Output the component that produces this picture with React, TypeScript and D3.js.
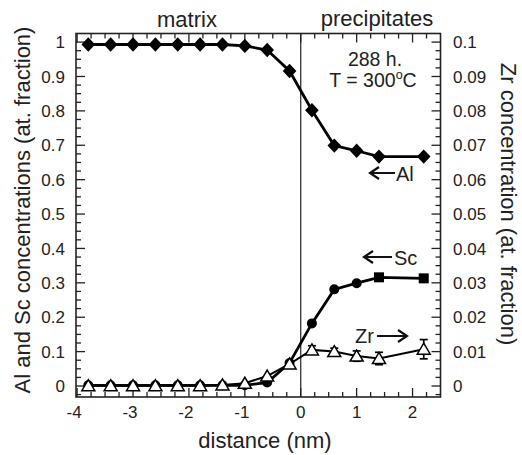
import React from "react";
import * as d3 from "d3";

const distance = [-3.8, -3.4, -3.0, -2.6, -2.2, -1.8, -1.4, -1.0, -0.6, -0.2, 0.2, 0.6, 1.0, 1.4, 2.2];
const alConc = [0.993, 0.993, 0.993, 0.993, 0.993, 0.993, 0.993, 0.989, 0.977, 0.916, 0.802, 0.699, 0.684, 0.667, 0.667];
const scConc = [0.002, 0.002, 0.002, 0.002, 0.002, 0.002, 0.002, 0.002, 0.01, 0.067, 0.182, 0.281, 0.299, 0.316, 0.313];
const scShape = ["c", "c", "c", "c", "c", "c", "c", "c", "c", "c", "c", "c", "c", "s", "s"];
const zrConc = [0.0001, 0.0001, 0.0001, 0.0001, 0.0001, 0.0001, 0.0003, 0.0008, 0.0029, 0.0064, 0.0105, 0.01, 0.0087, 0.008, 0.0107];
const zrErr = [0, 0, 0, 0, 0, 0, 0, 0, 0, 0, 0.0012, 0.001, 0.0015, 0.0018, 0.0028];

const xTicks = [-4, -3, -2, -1, 0, 1, 2];
const leftTicks = [0, 0.1, 0.2, 0.3, 0.4, 0.5, 0.6, 0.7, 0.8, 0.9, 1];
const leftTickLabels = ["0", "0.1", "0.2", "0.3", "0.4", "0.5", "0.6", "0.7", "0.8", "0.9", "1"];
const rightTicks = [0, 0.01, 0.02, 0.03, 0.04, 0.05, 0.06, 0.07, 0.08, 0.09, 0.1];
const rightTickLabels = ["0", "0.01", "0.02", "0.03", "0.04", "0.05", "0.06", "0.07", "0.08", "0.09", "0.1"];

const FONT = "'Liberation Sans', Arial, Helvetica, sans-serif";

export default function App() {
  const L = 76, R = 440.5, T = 33.5, B = 397;
  const x = d3.scaleLinear().domain([-4.02, 2.5]).range([L, R]);
  const y = d3.scaleLinear().domain([-0.032, 1.025]).range([B, T]);
  const yR = d3.scaleLinear().domain([-0.0032, 0.1025]).range([B, T]);

  const xMinor = d3.range(-16, 10).map((i) => i * 0.25).filter((v) => !Number.isInteger(v));
  const yMinor = d3.range(-1, 41).map((i) => i * 0.025).filter((v) => Math.abs(v * 10 - Math.round(v * 10)) > 1e-6);

  const line = (vals: number[], sc: (v: number) => number) =>
    d3.line<number>().x((_, i) => x(distance[i])).y((v) => sc(v))(vals) || "";

  const diamond = (cx: number, cy: number) =>
    `M${cx},${cy - 7.2}L${cx + 6.8},${cy}L${cx},${cy + 7.2}L${cx - 6.8},${cy}Z`;
  const tri = (cx: number, cy: number) =>
    `M${cx},${cy - 6}L${cx + 6.5},${cy + 5}L${cx - 6.5},${cy + 5}Z`;

  const arrowLeft = (x1: number, x2: number, yy: number) =>
    `M${x2},${yy}L${x1},${yy}M${x1 + 9},${yy - 6}L${x1},${yy}L${x1 + 9},${yy + 6}`;
  const arrowRight = (x1: number, x2: number, yy: number) =>
    `M${x1},${yy}L${x2},${yy}M${x2 - 9},${yy - 6}L${x2},${yy}L${x2 - 9},${yy + 6}`;

  return (
    <svg width={522} height={455} style={{ position: "absolute", left: 0, top: 0, background: "#fff" }} fontFamily={FONT}>
      <rect x={0} y={0} width={522} height={455} fill="#fff" />
      {/* ticks */}
      <g stroke="#222" strokeWidth={1.3}>
        {xTicks.map((t) => (
          <g key={"xt" + t}>
            <line x1={x(t)} x2={x(t)} y1={B} y2={B - 9} />
            <line x1={x(t)} x2={x(t)} y1={T} y2={T + 9} />
          </g>
        ))}
        {xMinor.map((t) => (
          <g key={"xm" + t}>
            <line x1={x(t)} x2={x(t)} y1={B} y2={B - 5} />
            <line x1={x(t)} x2={x(t)} y1={T} y2={T + 5} />
          </g>
        ))}
        {leftTicks.map((t) => (
          <g key={"yt" + t}>
            <line x1={L} x2={L + 9} y1={y(t)} y2={y(t)} />
            <line x1={R} x2={R - 9} y1={y(t)} y2={y(t)} />
          </g>
        ))}
        {yMinor.map((t) => (
          <g key={"ym" + t}>
            <line x1={L} x2={L + 5} y1={y(t)} y2={y(t)} />
            <line x1={R} x2={R - 5} y1={y(t)} y2={y(t)} />
          </g>
        ))}
      </g>
      <rect x={L} y={T} width={R - L} height={B - T} fill="none" stroke="#222" strokeWidth={1.6} />
      <line x1={x(0)} x2={x(0)} y1={T} y2={B} stroke="#222" strokeWidth={1.2} />

      {/* tick labels */}
      <g fontSize={17} fill="#222">
        {xTicks.map((t) => (
          <text key={"xl" + t} x={x(t) - (t < 0 ? 3 : 0)} y={418} textAnchor="middle">{String(t)}</text>
        ))}
        {leftTicks.map((t, i) => (
          <text key={"yl" + t} x={65} y={y(t)} dy="0.36em" textAnchor="end">{leftTickLabels[i]}</text>
        ))}
        {rightTicks.map((t, i) => (
          <text key={"yr" + t} x={453} y={yR(t)} dy="0.36em" textAnchor="start">{rightTickLabels[i]}</text>
        ))}
      </g>

      {/* axis titles */}
      <g fontSize={22} fill="#222">
        <text x={265} y={448} textAnchor="middle">distance (nm)</text>
        <text transform="translate(30,210) rotate(-90)" textAnchor="middle">Al and Sc concentrations (at. fraction)</text>
        <text transform="translate(501,204) rotate(90)" textAnchor="middle">Zr concentration (at. fraction)</text>
        <text x={187} y={26.5} textAnchor="middle">matrix</text>
        <text x={377} y={26} textAnchor="middle">precipitates</text>
      </g>
      <g fontSize={19.5} fill="#222">
        <text x={375} y={65.5} textAnchor="middle">288 h.</text>
        <text x={373} y={87} textAnchor="middle">
          T = 300<tspan fontSize={12.5} dy={-8}>o</tspan><tspan dy={8}>C</tspan>
        </text>
      </g>
      <g fontSize={20} fill="#222">
        <text x={396} y={181}>Al</text>
        <text x={394} y={265}>Sc</text>
        <text x={355} y={343}>Zr</text>
      </g>
      <g stroke="#111" strokeWidth={2.2} fill="none">
        <path d={arrowLeft(370, 395, 173)} />
        <path d={arrowLeft(364, 392, 257)} />
        <path d={arrowRight(377, 407, 336)} />
      </g>

      {/* Al */}
      <path d={line(alConc, y)} fill="none" stroke="#000" strokeWidth={2.8} />
      {alConc.map((v, i) => (
        <path key={"al" + i} d={diamond(x(distance[i]), y(v))} fill="#000" />
      ))}
      {/* Sc */}
      <path d={line(scConc, y)} fill="none" stroke="#000" strokeWidth={2.8} />
      {scConc.map((v, i) =>
        scShape[i] === "s" ? (
          <rect key={"sc" + i} x={x(distance[i]) - 5} y={y(v) - 5} width={10} height={10} fill="#000" />
        ) : (
          <circle key={"sc" + i} cx={x(distance[i])} cy={y(v)} r={5} fill="#000" />
        )
      )}
      {/* Zr */}
      <path d={line(zrConc, yR)} fill="none" stroke="#000" strokeWidth={2} />
      <g stroke="#000" strokeWidth={1.7}>
        {zrConc.map((v, i) =>
          zrErr[i] > 0 ? (
            <g key={"ze" + i}>
              <line x1={x(distance[i])} x2={x(distance[i])} y1={yR(v - zrErr[i])} y2={yR(v + zrErr[i])} />
              <line x1={x(distance[i]) - 4} x2={x(distance[i]) + 4} y1={yR(v - zrErr[i])} y2={yR(v - zrErr[i])} />
              <line x1={x(distance[i]) - 4} x2={x(distance[i]) + 4} y1={yR(v + zrErr[i])} y2={yR(v + zrErr[i])} />
            </g>
          ) : null
        )}
      </g>
      {zrConc.map((v, i) => (
        <path key={"zr" + i} d={tri(x(distance[i]), yR(v))} fill="#fff" stroke="#000" strokeWidth={1.5} />
      ))}
    </svg>
  );
}
